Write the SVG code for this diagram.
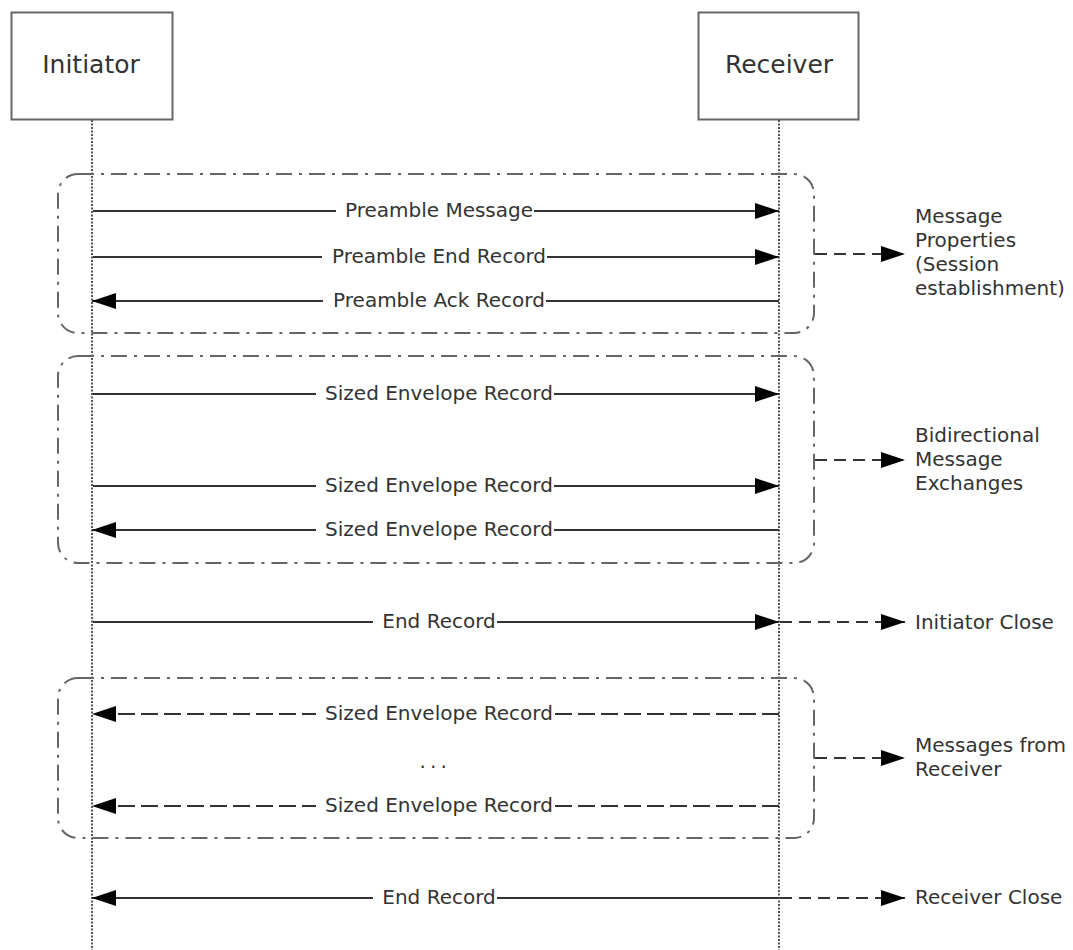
<svg xmlns="http://www.w3.org/2000/svg" width="1073" height="950" viewBox="0 0 1073 950">
<defs>
<marker id="ah" viewBox="0 0 24 16" refX="24" refY="8" markerWidth="24" markerHeight="16" markerUnits="userSpaceOnUse" orient="auto"><path d="M0,0 L24,8 L0,16 Z" fill="#000"/></marker>
<style>
.box{fill:#fff;stroke:#666;stroke-width:2}
.life{stroke:#555;stroke-width:2;stroke-dasharray:2 1.5;fill:none}
.frame{fill:none;stroke:#666;stroke-width:2;stroke-dasharray:16 7 3 7}
.msg{stroke:#333;stroke-width:2;fill:none;marker-end:url(#ah)}
.dmsg{stroke:#333;stroke-width:2;fill:none;stroke-dasharray:17 6;marker-end:url(#ah)}
.side{stroke:#333;stroke-width:2;fill:none;stroke-dasharray:12 7;marker-end:url(#ah)}
text{font-family:"DejaVu Sans",Verdana,sans-serif;font-size:20px;fill:#333}
.head{font-size:25px}
.lbl{text-anchor:middle}
.bg{fill:#fff}
</style>
</defs>
<g id="initiator"><rect class="box" x="11.5" y="12.5" width="161" height="107"/><text class="lbl head" x="91" y="73">Initiator</text></g>
<g id="receiver"><rect class="box" x="698.5" y="12.5" width="160" height="107"/><text class="lbl head" x="779" y="73">Receiver</text></g>
<g id="lifelines"><line class="life" x1="92" y1="120" x2="92" y2="950"/><line class="life" x1="779" y1="120" x2="779" y2="950"/></g>
<g id="frames">
<rect class="frame" x="58" y="174" width="756" height="159" rx="20"/>
<rect class="frame" x="58" y="356" width="756" height="207" rx="20"/>
<rect class="frame" x="58" y="678" width="756" height="160" rx="20"/>
</g>
<g id="connectors">
<line class="msg" x1="93" y1="211" x2="779" y2="211"/>
<line class="msg" x1="93" y1="257" x2="779" y2="257"/>
<line class="msg" x1="779" y1="301" x2="92" y2="301"/>
<line class="msg" x1="93" y1="394" x2="779" y2="394"/>
<line class="msg" x1="93" y1="486" x2="779" y2="486"/>
<line class="msg" x1="779" y1="530" x2="92" y2="530"/>
<line class="msg" x1="93" y1="622" x2="779" y2="622"/>
<line class="dmsg" x1="779" y1="714" x2="92" y2="714"/>
<line class="dmsg" x1="779" y1="806" x2="92" y2="806"/>
<line class="msg" x1="779" y1="898" x2="92" y2="898"/>
<line class="side" x1="815" y1="254" x2="905" y2="254"/>
<line class="side" x1="815" y1="460" x2="905" y2="460"/>
<line class="side" x1="780" y1="622" x2="905" y2="622"/>
<line class="side" x1="815" y1="758" x2="905" y2="758"/>
<line class="side" x1="780" y1="898" x2="905" y2="898"/>
</g>
<g id="labels">
<rect class="bg" x="336" y="200" width="198" height="22"/><text class="lbl" x="439" y="217">Preamble Message</text>
<rect class="bg" x="322" y="246" width="225" height="22"/><text class="lbl" x="439" y="263">Preamble End Record</text>
<rect class="bg" x="323" y="290" width="223" height="22"/><text class="lbl" x="439" y="307">Preamble Ack Record</text>
<rect class="bg" x="316" y="383" width="238" height="22"/><text class="lbl" x="439" y="400">Sized Envelope Record</text>
<rect class="bg" x="316" y="475" width="238" height="22"/><text class="lbl" x="439" y="492">Sized Envelope Record</text>
<rect class="bg" x="316" y="519" width="238" height="22"/><text class="lbl" x="439" y="536">Sized Envelope Record</text>
<rect class="bg" x="373" y="611" width="124" height="22"/><text class="lbl" x="439" y="628">End Record</text>
<rect class="bg" x="316" y="703" width="238" height="22"/><text class="lbl" x="439" y="720">Sized Envelope Record</text>
<text x="419.5" y="768" letter-spacing="4.2">...</text>
<rect class="bg" x="316" y="795" width="238" height="22"/><text class="lbl" x="439" y="812">Sized Envelope Record</text>
<rect class="bg" x="373" y="887" width="124" height="22"/><text class="lbl" x="439" y="904">End Record</text>
</g>
<g id="notes">
<text x="915" y="223">Message</text><text x="915" y="247">Properties</text><text x="915" y="271">(Session</text><text x="915" y="295">establishment)</text>
<text x="915" y="442">Bidirectional</text><text x="915" y="466">Message</text><text x="915" y="490">Exchanges</text>
<text x="915" y="629">Initiator Close</text>
<text x="915" y="752">Messages from</text><text x="915" y="776">Receiver</text>
<text x="915" y="904">Receiver Close</text>
</g>
</svg>
